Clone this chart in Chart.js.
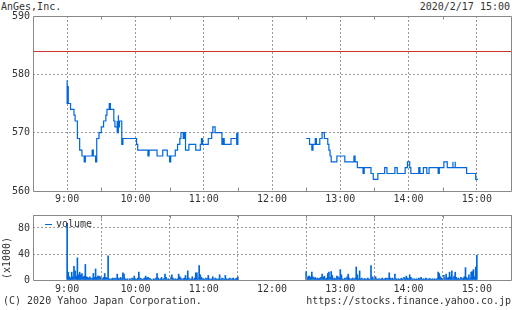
<!DOCTYPE html>
<html><head><meta charset="utf-8">
<script src="https://cdn.jsdelivr.net/npm/chart.js@4/dist/chart.umd.min.js"></script>
<style>
html,body{margin:0;padding:0;background:#fff;width:512px;height:310px;overflow:hidden;}
.t{position:absolute;font-family:"DejaVu Sans Mono",monospace;font-size:10px;color:#333;white-space:nowrap;line-height:12px;}
canvas{position:absolute;left:0;top:0;}
</style></head><body>
<div class="t" style="left:1px;top:1px">AnGes,Inc.</div>
<div class="t" style="right:2px;top:1px">2020/2/17 15:00</div>
<div style="position:absolute;left:0;top:0;width:512px;height:206px"><canvas id="p" width="512" height="206"></canvas></div>
<div style="position:absolute;left:0;top:206px;width:512px;height:92px"><canvas id="v" width="512" height="92"></canvas></div>
<div style="position:absolute;left:45px;top:224px;width:7px;height:1px;background:#0066dd"></div>
<div class="t" style="left:56px;top:218px">volume</div>
<div class="t" style="left:-15px;top:252px;width:44px;text-align:center;transform:rotate(-90deg)">(x1000)</div>
<div class="t" style="left:3px;top:295px">(C) 2020 Yahoo Japan Corporation.</div>
<div class="t" style="right:1px;top:295px">https://stocks.finance.yahoo.co.jp</div>
<script>
// time values are minutes after 9:00
const hourTicks = [0,60,120,180,240,300,360];
const hourLabels = ['9:00','10:00','11:00','12:00','13:00','14:00','15:00'];
const halfHourTicks = [30,90,150,210,270,330];
const prevClose = 584;
const priceTicks = [560,570,580,590];
const volTicks = [0,20,40,60,80,100];

const morningTimes = [0,0,1,1,3,6,7,9,11,13,15,16,22,23,25,26,28,30,32,34,35,37,38,41,42,44,44,45,45,46,48,48,49,61,62,71,72,79,84,88,90,91,95,97,99,100,102,103,104,107,113,117,118,119,124,127,128,130,136,136,137,138,144,149,149,150];
const morningPrices = [579,575,578,575,574,573,572,569,567,566,565,566,567,566,565,569,570,571,572,573,574,575,574,572,571,572,570,573,571,572,571,568,569,568,567,566,567,566,567,566,565,566,567,568,569,570,569,570,567,568,567,568,569,568,569,570,571,570,569,568,569,568,569,570,568,570];

const afternoonTimes = [210,213,215,216,218,219,222,224,226,229,230,231,232,237,244,252,253,255,260,261,267,269,273,279,281,288,290,297,299,301,302,309,310,313,316,318,326,327,331,334,339,339,341,341,351,359,361];
const afternoonPrices = [569,568,567,568,569,568,569,570,569,568,567,566,565,566,565,566,565,564,563,564,563,562,563,564,563,564,563,564,565,564,563,564,563,564,563,564,563,564,565,564,565,564,565,564,563,562,562];

const volMorningStart = 0;   // 9:00
const volMorning = [87,12,5,3,12,5,21,14,6,34, 8,12,8,10,5,6,24,5,4,3, 5,2,3,10,4,17,4,6,6,5, 3,2,4,10,4,3,37,2,1,2, 3,2,3,2,9,3,2,4,2,11, 9,2,1,2,0,2,1,3,2,6, 2,1,3,12,3,2,1,2,3,6, 3,4,3,2,1,0,2,1,3,10, 3,1,2,4,1,2,9,4,1,2, 0,2,8,3,1,2,1,2,9,5, 3,1,2,3,7,2,14,3,1,2, 5,1,3,11,11,3,22,8,4,2, 2,1,3,2,7,2,1,2,5,1, 3,2,1,2,8,1,3,2,1,7, 2,1,2,3,1,2,3,1,2,3, 4];
const volAfternoonStart = 210; // 12:30
const volAfternoon = [13,4,6,6,4,12,5,3,4,2, 3,2,3,4,9,4,6,2,3,10, 12,4,13,7,2,3,2,6,5,3, 16,8,2,1,3,2,5,9,3,1, 2,3,1,3,20,8,2,14,2,3, 1,2,2,1,3,2,1,22,5,2, 5,5,2,1,2,1,2,3,1,2, 3,2,3,11,3,2,3,1,9,2, 1,2,1,2,3,1,4,2,6,3, 2,8,4,2,1,2,1,2,1,3, 2,4,1,2,1,3,2,1,2,2, 1,2,1,2,1,2,12,10,5,3, 2,7,3,9,3,4,12,5,14,3, 6,12,4,2,3,1,4,2,3,5, 19,4,2,8,3,12,13,16,5,20, 38];

const BLUE = '#0066dd', RED = '#cc3333', FRAME = '#888', GRID = '#999', TXT = '#333';
const X_MIN = -30, X_MAX = 390;

Chart.defaults.font.family = '"DejaVu Sans Mono", monospace';
Chart.defaults.font.size = 10;
Chart.defaults.color = TXT;

const framePlugin = {
  id: 'frame',
  afterDraw(chart) {
    const {ctx, chartArea: a} = chart;
    const xs = chart.scales.x;
    const L = Math.round(a.left) + 0.5, R = Math.round(a.right) + 0.5;
    const T = Math.round(a.top) + 0.5, B = Math.round(a.bottom) + 0.5;
    ctx.save();
    ctx.strokeStyle = FRAME; ctx.lineWidth = 1;
    ctx.beginPath();
    ctx.moveTo(L, T); ctx.lineTo(R, T); ctx.lineTo(R, B); ctx.lineTo(L, B); ctx.closePath();
    halfHourTicks.forEach(m => {
      const px = Math.round(xs.getPixelForValue(m)) + 0.5;
      ctx.moveTo(px, T); ctx.lineTo(px, T + 3);
      ctx.moveTo(px, B); ctx.lineTo(px, B - 4);
    });
    ctx.stroke();
    ctx.restore();
  }
};

// previous close reference line, positioned through the y scale
const prevClosePlugin = {
  id: 'prevClose',
  beforeDatasetsDraw(chart) {
    const {ctx, chartArea: a} = chart;
    const py = Math.round(chart.scales.y.getPixelForValue(prevClose)) + 0.5;
    ctx.save();
    ctx.strokeStyle = RED; ctx.lineWidth = 1;
    ctx.beginPath(); ctx.moveTo(a.left, py); ctx.lineTo(a.right, py); ctx.stroke();
    ctx.restore();
  }
};

function xScale(pad) {
  return {
    type: 'linear', min: X_MIN, max: X_MAX, offset: false,
    afterBuildTicks: s => { s.ticks = hourTicks.map(v => ({value: v})); },
    afterFit: s => { s.height = pad.h; },
    ticks: { padding: pad.p, maxRotation: 0, autoSkip: false,
      callback: v => { const i = hourTicks.indexOf(v); return i >= 0 ? hourLabels[i] : ''; } },
    grid: { color: GRID, drawTicks: false, lineWidth: 1 },
    border: { display: false, dash: [2, 2] }
  };
}
function yScale(min, max, ticksArr) {
  return {
    min, max,
    afterBuildTicks: s => { s.ticks = ticksArr.map(v => ({value: v})); },
    afterFit: s => { s.width = 33; },
    ticks: { padding: 3, callback: v => String(v) },
    grid: { drawTicks: false, lineWidth: 1,
      color: c => (c.tick && (c.tick.value === min || c.tick.value === max)) ? 'rgba(0,0,0,0)' : GRID },
    border: { display: false, dash: [2, 2] }
  };
}

new Chart(document.getElementById('p'), {
  type: 'line',
  data: { datasets: [
    { data: morningTimes.map((t, i) => ({x: t, y: morningPrices[i]})), stepped: true, borderColor: BLUE, borderWidth: 1.2, pointRadius: 0, fill: false },
    { data: afternoonTimes.map((t, i) => ({x: t, y: afternoonPrices[i]})), stepped: true, borderColor: BLUE, borderWidth: 1.2, pointRadius: 0, fill: false }
  ]},
  options: {
    responsive: false, animation: false, events: [],
    layout: { padding: { top: 16, right: 1, left: 0, bottom: 0 } },
    plugins: { legend: { display: false }, tooltip: { enabled: false } },
    scales: { x: xScale({h: 15, p: 2}), y: yScale(560, 590, priceTicks) }
  },
  plugins: [prevClosePlugin, framePlugin]
});

const volData = volMorning.map((v, i) => ({x: volMorningStart + i, y: v}))
  .concat(volAfternoon.map((v, i) => ({x: volAfternoonStart + i, y: v})));

new Chart(document.getElementById('v'), {
  type: 'bar',
  data: { datasets: [
    { data: volData, backgroundColor: BLUE, barThickness: 1, borderWidth: 0 }
  ]},
  options: {
    responsive: false, animation: false, events: [],
    layout: { padding: { top: 9, right: 1, left: 0, bottom: 0 } },
    plugins: { legend: { display: false }, tooltip: { enabled: false } },
    scales: { x: xScale({h: 18, p: 3}), y: yScale(0, 100, volTicks) }
  },
  plugins: [framePlugin]
});
</script>
</body></html>
